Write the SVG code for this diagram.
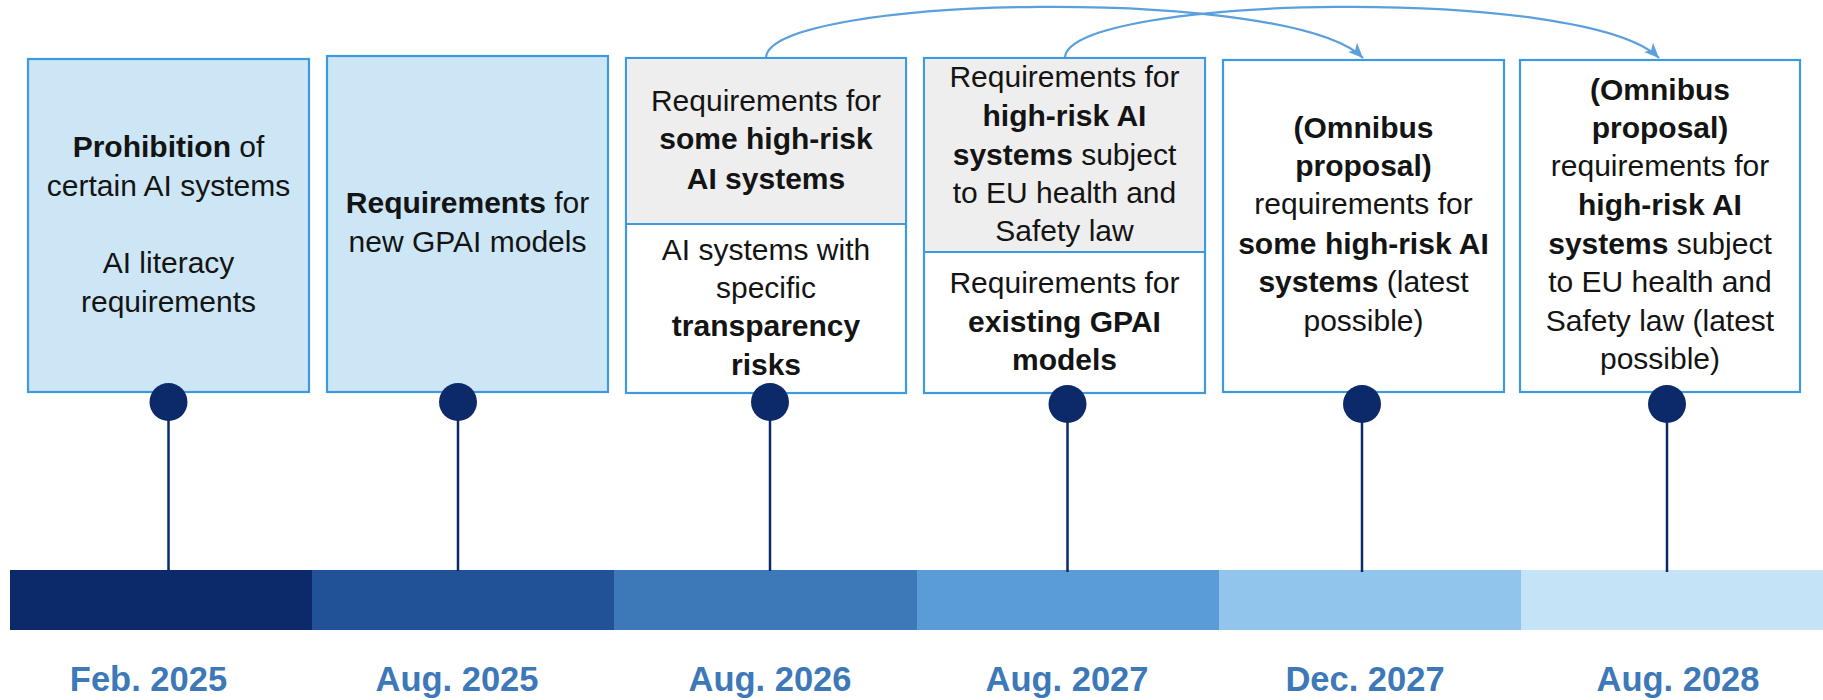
<svg xmlns="http://www.w3.org/2000/svg" width="1823" height="700" viewBox="0 0 1823 700">
  <style>
    .box { stroke: #3d9ae0; stroke-width: 2.2; }
    .blue { fill: #cde6f5; }
    .grey { fill: #eeeeee; }
    .white { fill: #ffffff; }
    .divider { stroke: #3d9ae0; stroke-width: 2.2; }
    .t { font-family: "Liberation Sans", Arial, sans-serif; font-size: 30px; fill: #141414; text-anchor: middle; }
    .b { font-weight: bold; }
    .date { font-family: "Liberation Sans", Arial, sans-serif; font-size: 34.5px; font-weight: bold; fill: #3d79b8; text-anchor: middle; }
    .stem { stroke: #0c2a6a; stroke-width: 2.5; }
    .dot { fill: #0c2a6a; }
    .link { fill: none; stroke: #5b9fdc; stroke-width: 2.2; }
  </style>
  <defs>
    <marker id="stealth" viewBox="0 0 15 13" refX="15" refY="6.5" markerWidth="15" markerHeight="13" markerUnits="userSpaceOnUse" orient="auto">
      <path d="M0,0 L15,6.5 L0,13 L4,6.5 Z" fill="#5b9fdc"/>
    </marker>
  </defs>

  <rect width="1823" height="700" fill="#ffffff"/>

  <!-- timeline bar -->
  <g id="timeline-bar">
    <rect x="10" y="570" width="302" height="60" fill="#0c2a6a"/>
    <rect x="312" y="570" width="302" height="60" fill="#215196"/>
    <rect x="614" y="570" width="303" height="60" fill="#3d79b8"/>
    <rect x="917" y="570" width="302" height="60" fill="#5a9cd6"/>
    <rect x="1219" y="570" width="302" height="60" fill="#92c5ec"/>
    <rect x="1521" y="570" width="302" height="60" fill="#c4e3f6"/>
  </g>

  <!-- dates -->
  <g id="dates">
    <text class="date" x="148.5" y="691">Feb. 2025</text>
    <text class="date" x="457" y="691">Aug. 2025</text>
    <text class="date" x="770" y="691">Aug. 2026</text>
    <text class="date" x="1067" y="691">Aug. 2027</text>
    <text class="date" x="1365" y="691">Dec. 2027</text>
    <text class="date" x="1678" y="691">Aug. 2028</text>
  </g>

  <!-- milestone 1 -->
  <g id="feb-2025">
    <rect class="box blue" x="28" y="59" width="281" height="333"/>
    <text class="t" x="168.5" y="157"><tspan class="b">Prohibition</tspan> of</text>
    <text class="t" x="168.5" y="196">certain AI systems</text>
    <text class="t" x="168.5" y="273">AI literacy</text>
    <text class="t" x="168.5" y="312">requirements</text>
  </g>

  <!-- milestone 2 -->
  <g id="aug-2025">
    <rect class="box blue" x="327" y="56" width="281" height="336"/>
    <text class="t" x="467.5" y="213"><tspan class="b">Requirements</tspan> for</text>
    <text class="t" x="467.5" y="252">new GPAI models</text>
  </g>

  <!-- milestone 3 -->
  <g id="aug-2026">
    <rect class="box white" x="626" y="58" width="280" height="335"/>
    <rect class="grey" x="627" y="59" width="278" height="165"/>
    <line class="divider" x1="626" y1="224" x2="906" y2="224"/>
    <text class="t" x="766" y="111">Requirements for</text>
    <text class="t b" x="766" y="149">some high-risk</text>
    <text class="t b" x="766" y="189">AI systems</text>
    <text class="t" x="766" y="260">AI systems with</text>
    <text class="t" x="766" y="298">specific</text>
    <text class="t b" x="766" y="336">transparency</text>
    <text class="t b" x="766" y="375">risks</text>
  </g>

  <!-- milestone 4 -->
  <g id="aug-2027">
    <rect class="box white" x="924" y="58" width="281" height="335"/>
    <rect class="grey" x="925" y="59" width="279" height="193"/>
    <line class="divider" x1="924" y1="252" x2="1205" y2="252"/>
    <text class="t" x="1064.5" y="87">Requirements for</text>
    <text class="t b" x="1064.5" y="126">high-risk AI</text>
    <text class="t" x="1064.5" y="165"><tspan class="b">systems</tspan> subject</text>
    <text class="t" x="1064.5" y="203">to EU health and</text>
    <text class="t" x="1064.5" y="241">Safety law</text>
    <text class="t" x="1064.5" y="293">Requirements for</text>
    <text class="t b" x="1064.5" y="332">existing GPAI</text>
    <text class="t b" x="1064.5" y="370">models</text>
  </g>

  <!-- milestone 5 -->
  <g id="dec-2027">
    <rect class="box white" x="1223" y="60" width="281" height="332"/>
    <text class="t b" x="1363.5" y="138">(Omnibus</text>
    <text class="t b" x="1363.5" y="176">proposal)</text>
    <text class="t" x="1363.5" y="214">requirements for</text>
    <text class="t b" x="1363.5" y="254">some high-risk AI</text>
    <text class="t" x="1363.5" y="292"><tspan class="b">systems</tspan> (latest</text>
    <text class="t" x="1363.5" y="331">possible)</text>
  </g>

  <!-- milestone 6 -->
  <g id="aug-2028">
    <rect class="box white" x="1520" y="60" width="280" height="332"/>
    <text class="t b" x="1660" y="100">(Omnibus</text>
    <text class="t b" x="1660" y="138">proposal)</text>
    <text class="t" x="1660" y="176">requirements for</text>
    <text class="t b" x="1660" y="215">high-risk AI</text>
    <text class="t" x="1660" y="254"><tspan class="b">systems</tspan> subject</text>
    <text class="t" x="1660" y="292">to EU health and</text>
    <text class="t" x="1660" y="331">Safety law (latest</text>
    <text class="t" x="1660" y="369">possible)</text>
  </g>

  <!-- connectors: stems with pins, and the postponement arrows -->
  <g id="connectors">
    <line class="stem" x1="168.5" y1="402" x2="168.5" y2="571"/>
    <line class="stem" x1="458" y1="402" x2="458" y2="571"/>
    <line class="stem" x1="770" y1="402" x2="770" y2="571"/>
    <line class="stem" x1="1067.5" y1="404" x2="1067.5" y2="572"/>
    <line class="stem" x1="1362" y1="404" x2="1362" y2="572"/>
    <line class="stem" x1="1667" y1="404" x2="1667" y2="572"/>
    <circle class="dot" cx="168.5" cy="402" r="19"/>
    <circle class="dot" cx="458" cy="402" r="19"/>
    <circle class="dot" cx="770" cy="402" r="19"/>
    <circle class="dot" cx="1067.5" cy="404" r="19"/>
    <circle class="dot" cx="1362" cy="404" r="19"/>
    <circle class="dot" cx="1667" cy="404" r="19"/>
    <path class="link" d="M766,57 C772,-5 1290,-15 1363,58" marker-end="url(#stealth)"/>
    <path class="link" d="M1065,57 C1071,-5 1586,-15 1659,58" marker-end="url(#stealth)"/>
  </g>
</svg>
